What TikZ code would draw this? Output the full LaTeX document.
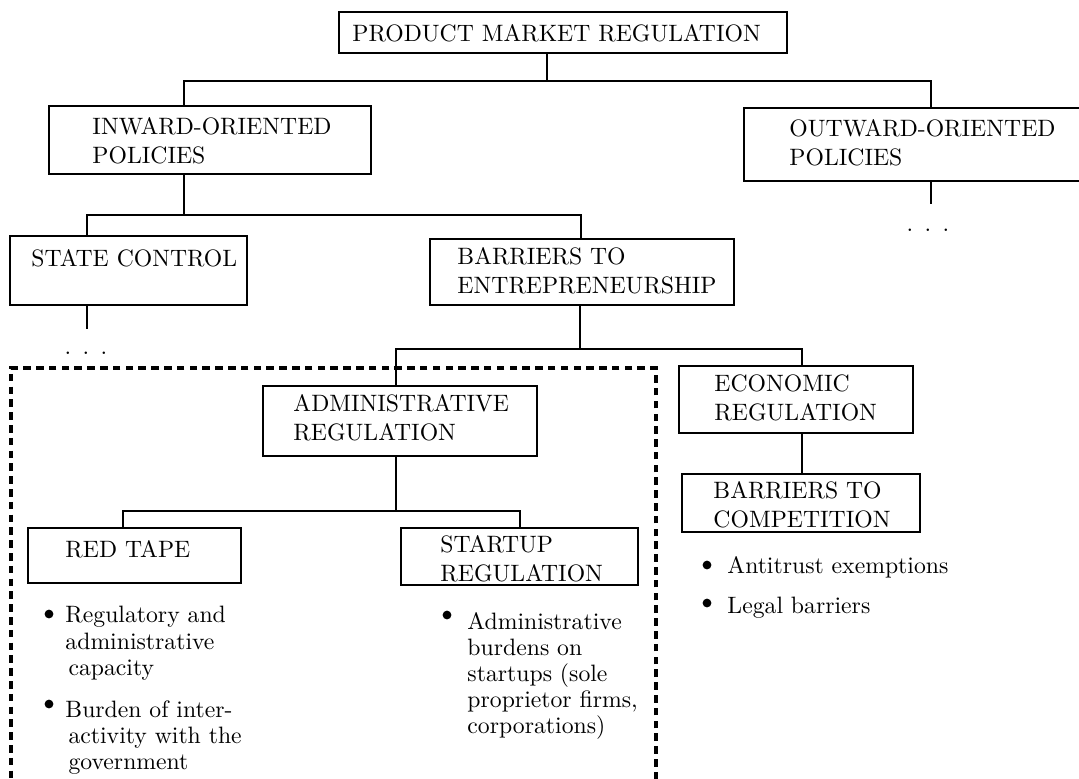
\documentclass[tikz,border=0pt]{standalone}
\usetikzlibrary{fit}
\begin{document}
\begin{tikzpicture}[x=0.4219pt,y=-0.4219pt,
  box/.style={draw, line width=0.9pt, inner sep=0pt},
  frame/.style={draw, line width=1.4pt, dash pattern=on 3.2pt off 2.2pt, inner sep=0pt},
  boxtext/.style={anchor=north west, inner sep=0pt, align=left, font=\fontsize{10}{12.3}\selectfont},
  bultext/.style={anchor=north west, inner sep=0pt, align=left, font=\fontsize{10}{11}\selectfont},
  bul/.style={circle, fill, inner sep=0pt, minimum size=3.7pt},
  conn/.style={line width=0.9pt},
  dotsnode/.style={anchor=base, inner sep=0pt}]
\useasboundingbox (0,0) rectangle (1079,778);

% dashed frame
\node[frame, fit={(11,368) (656,800)}] (grp) {};

% boxes
\node[box, fit={(339,12) (787,53)}] (pmr) {};
\node[box, fit={(49,106) (371,174)}] (inw) {};
\node[box, fit={(744,108) (1095,181)}] (outw) {};
\node[box, fit={(10,236) (247,305)}] (stc) {};
\node[box, fit={(430,239) (734,305)}] (bte) {};
\node[box, fit={(263,386) (537,456)}] (adm) {};
\node[box, fit={(679,366) (913,433)}] (eco) {};
\node[box, fit={(682,474) (920,532)}] (btc) {};
\node[box, fit={(28,528) (241,583)}] (rtp) {};
\node[box, fit={(401,528) (638,585)}] (stp) {};

% box texts
\node[boxtext] (pmrt) at (352,24) {PRODUCT MARKET REGULATION};
\node[boxtext] (inwt) at (92,117) {INWARD-ORIENTED\\POLICIES};
\node[boxtext] (outwt) at (789,119) {OUTWARD-ORIENTED\\POLICIES};
\node[boxtext] (stct) at (31,249) {STATE CONTROL};
\node[boxtext] (btet) at (457,247) {BARRIERS TO\\ENTREPRENEURSHIP};
\node[boxtext] (admt) at (293,394) {ADMINISTRATIVE\\REGULATION};
\node[boxtext] (ecot) at (714,374) {ECONOMIC\\REGULATION};
\node[boxtext] (btct) at (713,481) {BARRIERS TO\\COMPETITION};
\node[boxtext] (rtpt) at (65,540) {RED TAPE};
\node[boxtext] (stpt) at (440,535) {STARTUP\\REGULATION};

% junctions
\coordinate (j1) at (547,81);
\coordinate (j1l) at (184,81);
\coordinate (j1r) at (931,81);
\coordinate (j2) at (184,215);
\coordinate (j2l) at (87,215);
\coordinate (j2r) at (581,215);
\coordinate (sce) at (87,329);
\coordinate (oute) at (931,204);
\coordinate (j3) at (580,349);
\coordinate (j3l) at (396,349);
\coordinate (j3r) at (802,349);
\coordinate (j4) at (396,511);
\coordinate (j4l) at (123,511);
\coordinate (j4r) at (520,511);

% connectors
\draw[conn] (pmr.south -| j1) -- (j1);
\draw[conn] (inw.north -| j1l) -- (j1l) -- (j1r) -- (outw.north -| j1r);
\draw[conn] (inw.south -| j2) -- (j2);
\draw[conn] (stc.north -| j2l) -- (j2l) -- (j2r) -- (bte.north -| j2r);
\draw[conn] (stc.south -| sce) -- (sce);
\draw[conn] (outw.south -| oute) -- (oute);
\draw[conn] (bte.south -| j3) -- (j3);
\draw[conn] (adm.north -| j3l) -- (j3l) -- (j3r) -- (eco.north -| j3r);
\draw[conn] (eco.south -| j3r) -- (btc.north -| j3r);
\draw[conn] (adm.south -| j4) -- (j4);
\draw[conn] (rtp.north -| j4l) -- (j4l) -- (j4r) -- (stp.north -| j4r);

% continuation dots
\node[dotsnode] (dots1) at (86,354) {.\hspace{4.8pt}.\hspace{4.8pt}.};
\node[dotsnode] (dots2) at (928,231) {.\hspace{4.8pt}.\hspace{4.8pt}.};

% bullets
\node[bul] (b1) at (49,614) {};
\node[bultext] (b1t) at (65,606) {Regulatory and\\administrative\\\hspace{1.3pt}capacity};
\node[bul] (b2) at (49,704) {};
\node[bultext] (b2t) at (65,700) {Burden of inter-\\\hspace{1.3pt}activity with the\\\hspace{1.3pt}government};
\node[bul] (b3) at (447,615) {};
\node[bultext] (b3t) at (467,612) {Administrative\\burdens on\\startups (sole\\proprietor firms,\\corporations)};
\node[bul] (b4) at (707,565) {};
\node[bultext] (b4t) at (727,556) {Antitrust exemptions};
\node[bul] (b5) at (707,603) {};
\node[bultext] (b5t) at (727,597) {Legal barriers};
\end{tikzpicture}
\end{document}
